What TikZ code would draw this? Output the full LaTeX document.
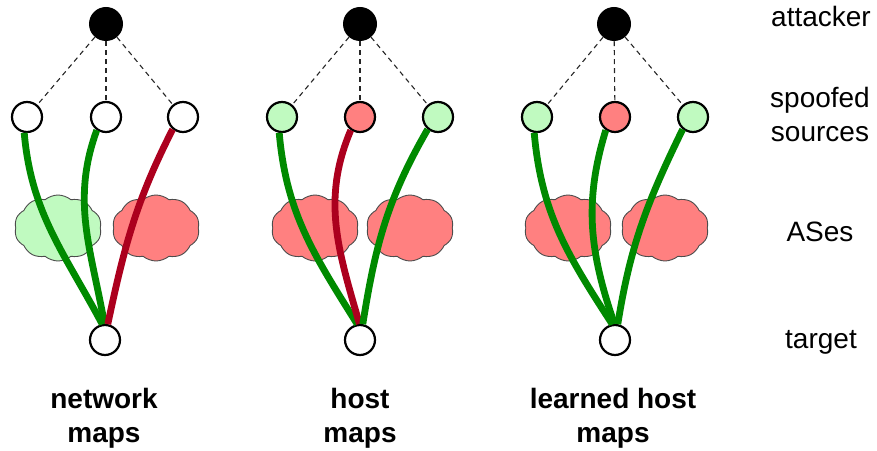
\documentclass[tikz,border=0pt]{standalone}
\usepackage{fontspec}
\setmainfont{Liberation Sans}
\usepackage{tikz}
\usetikzlibrary{shapes}
\definecolor{okgreen}{RGB}{0,138,0}
\definecolor{badred}{RGB}{172,0,30}
\definecolor{palegreen}{RGB}{192,250,192}
\definecolor{palered}{RGB}{255,128,128}
\tikzset{
	src/.style={circle, draw, line width=2.2pt, fill=white, minimum size=30pt, inner sep=0pt},
	atk/.style={circle, fill=black, minimum size=34pt, inner sep=0pt},
	asn/.style={cloud, cloud puffs=10, cloud puff arc=80, aspect=1.6, draw=black!70, line width=0.9pt, minimum width=87pt, minimum height=66pt, inner sep=0pt},
	spoof/.style={dashed, dash pattern=on 5pt off 4pt, line width=1.1pt, black!85},
	good/.style={line width=6.8pt, okgreen},
	bad/.style={line width=6.8pt, badred},
	lbl/.style={font=\fontsize{28}{34}\selectfont, align=center, anchor=base, inner sep=0pt},
	title/.style={lbl, font=\fontsize{28}{34}\selectfont\bfseries},
}
\begin{document}
\begin{tikzpicture}[x=1pt,y=1pt]
				\useasboundingbox (0,0) rectangle (877,450);
				
				% ASes
				\node[asn, fill=palegreen] (C11) at (58,222) {};
				\node[asn, fill=palered] (C12) at (156,222) {};
				\node[asn, fill=palered] (C21) at (315,222) {};
				\node[asn, fill=palered] (C22) at (410,222) {};
				\node[asn, fill=palered] (C31) at (568,222) {};
				\node[asn, fill=palered] (C32) at (665,222) {};
				
				% attackers
				\node[atk] (A1) at (106,426) {};
				\node[atk] (A2) at (360,426) {};
				\node[atk] (A3) at (614,426) {};
				
				% spoofed sources
				\node[src] (S11) at (27,333) {};
				\node[src] (S12) at (106,333) {};
				\node[src] (S13) at (183,333) {};
				\node[src, fill=palegreen] (S21) at (282,333) {};
				\node[src, fill=palered] (S22) at (360,333) {};
				\node[src, fill=palegreen] (S23) at (438,333) {};
				\node[src, fill=palegreen] (S31) at (537,333) {};
				\node[src, fill=palered] (S32) at (615,333) {};
				\node[src, fill=palegreen] (S33) at (693,333) {};
				
				% targets
				\node[src] (T1) at (105,110) {};
				\node[src] (T2) at (360,110) {};
				\node[src] (T3) at (615,110) {};
				
				\draw[spoof] (A1) -- (S11);
				\draw[spoof] (A1) -- (S12);
				\draw[spoof] (A1) -- (S13);
				\draw[spoof] (A2) -- (S21);
				\draw[spoof] (A2) -- (S22);
				\draw[spoof] (A2) -- (S23);
				\draw[spoof] (A3) -- (S31);
				\draw[spoof] (A3) -- (S32);
				\draw[spoof] (A3) -- (S33);
				
				% network maps
				\draw[good] (S11.-100) to[out=-85,in=118] (T1.100);
				\draw[good] (S12.-125) to[out=-110,in=100] (T1.92);
				\draw[bad]  (S13.-130) to[out=-117,in=78] (T1.80);
				% host maps
				\draw[good] (S21.-100) to[out=-85,in=122] (T2.100);
				\draw[bad]  (S22.-125) to[out=-113,in=106] (T2.92);
				\draw[good] (S23.-130) to[out=-120,in=81] (T2.80);
				% learned host maps
				\draw[good] (S31.-100) to[out=-85,in=123] (T3.100);
				\draw[good] (S32.-125) to[out=-107,in=109] (T3.92);
				\draw[good] (S33.-130) to[out=-116,in=81] (T3.80);
				
				\node[lbl] (L1) at (821,423) {attacker};
				\node[lbl] (L2) at (820,308) {spoofed\\sources};
				\node[lbl] (L3) at (820,208) {ASes};
				\node[lbl] (L4) at (821,102) {target};
				
				\node[title] (M1) at (104,8) {network\\maps};
				\node[title] (M2) at (360,8) {host\\maps};
				\node[title] (M3) at (613,8) {learned host\\maps};
			\end{tikzpicture}
\end{document}
